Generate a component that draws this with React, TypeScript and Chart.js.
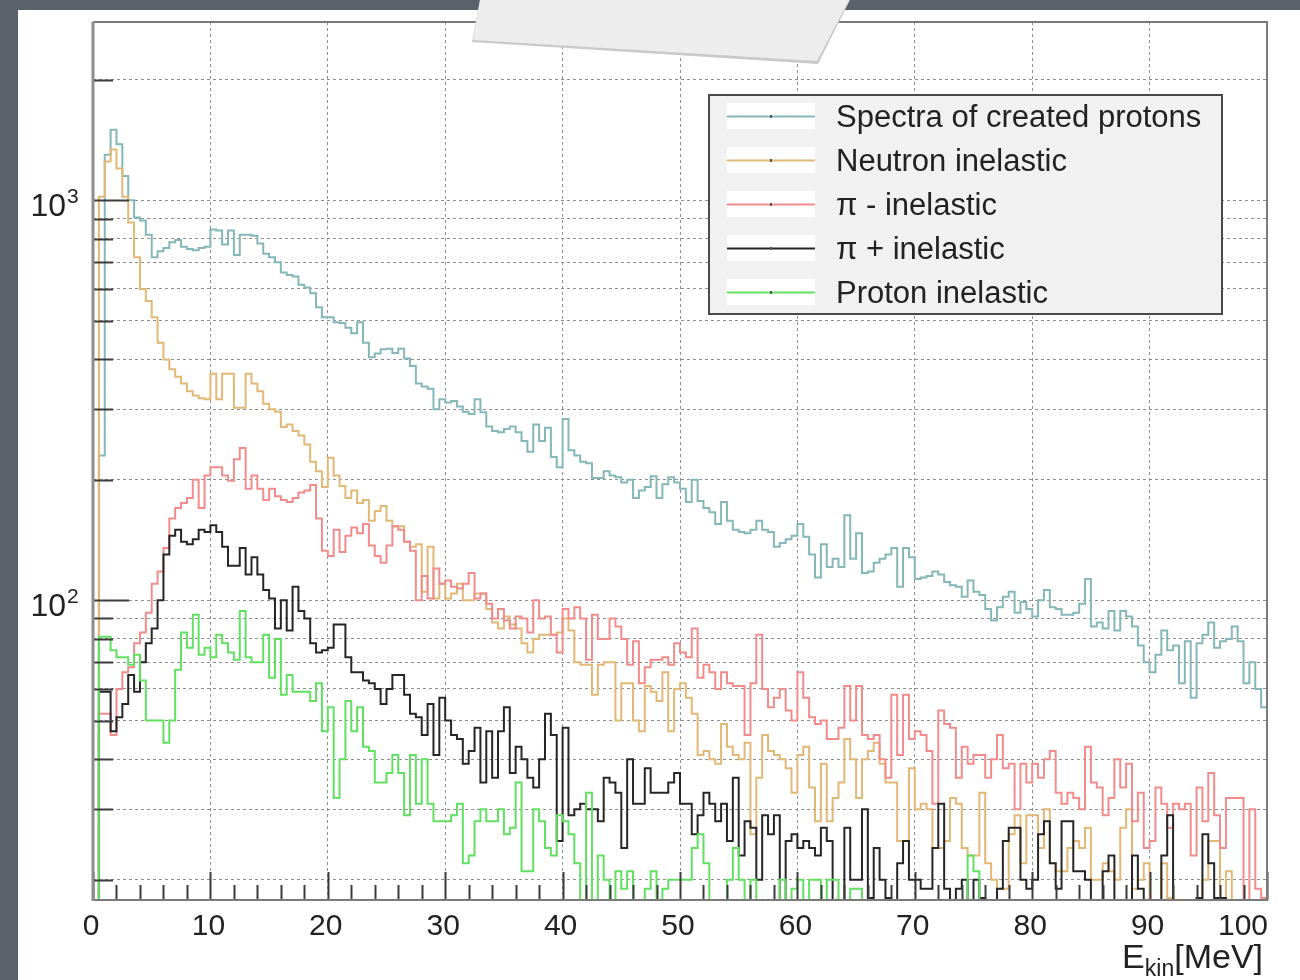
import React, { useEffect, useRef } from 'react';
import { Chart, registerables } from 'chart.js';

Chart.register(...registerables);

// ---------- axis definition ----------
const BIN_WIDTH = 0.5; // MeV
const X_MIN = 0;
const X_MAX = 100;
const X_MAJOR_STEP = 10;
const X_MINOR_STEP = 2;
const Y_MIN = 17.8;
const Y_MAX = 2790;
const Y_TICKS = [20, 30, 40, 50, 60, 70, 80, 90, 100, 200, 300, 400, 500, 600, 700, 800, 900, 1000, 2000];
const Y_LABEL_BASE = '10';
const Y_LABEL_EXP: Record<number, string> = { 100: '2', 1000: '3' };
const X_TITLE_MAIN = 'E';
const X_TITLE_SUB = 'kin';
const X_TITLE_UNIT = '[MeV]';

// ---------- series (counts per 0.5 MeV bin, 200 bins; 0 = empty / below range) ----------
const createdProtons = [
  0, 230, 1300, 1500, 1380, 1150, 1000, 905, 890, 820,
  720, 745, 760, 785, 795, 765, 755, 750, 760, 765,
  845, 840, 775, 840, 730, 820, 820, 815, 780, 735,
  720, 700, 660, 650, 645, 615, 605, 585, 540, 510,
  510, 495, 493, 480, 465, 495, 440, 405, 414, 424,
  425, 415, 425, 402, 385, 348, 342, 338, 300, 318,
  312, 315, 305, 296, 292, 318, 295, 272, 265, 263,
  268, 272, 263, 250, 235, 275, 250, 270, 228, 215,
  284, 237, 230, 222, 220, 202, 202, 210, 205, 203,
  197, 200, 180, 188, 192, 204, 180, 195, 203, 197,
  190, 176, 200, 177, 170, 166, 155, 176, 158, 150,
  148, 147, 150, 158, 150, 148, 136, 139, 142, 145,
  155, 144, 130, 114, 138, 121, 127, 121, 163, 127,
  147, 117, 118, 124, 127, 130, 135, 108, 135, 128,
  113, 114, 115, 118, 116, 111, 109, 108, 102, 112,
  105, 103, 95, 89, 96, 102, 105, 93, 99, 95,
  91, 100, 106, 96, 95, 92, 92, 93, 98, 113,
  86, 88, 85, 94, 84, 94, 91, 86, 77, 70,
  66, 73, 84, 75, 77, 62, 79, 57, 78, 82,
  88, 76, 79, 80, 86, 79, 62, 70, 60, 54,
];

const neutronInelastic = [
  0, 1020, 1250, 1340, 1200, 1020, 880, 720, 600, 560,
  510, 440, 400, 378, 362, 348, 333, 325, 320, 318,
  368, 318, 368, 368, 303, 303, 368, 348, 333, 310,
  300, 296, 271, 275, 265, 258, 245, 222, 210, 192,
  227, 205, 193, 180, 188, 175, 178, 158, 167, 172,
  158, 153, 153, 140, 136, 138, 105, 136, 101, 110,
  101, 104, 110, 100, 100, 104, 104, 95, 88, 85,
  91, 87, 85, 78, 74, 80, 82, 82, 82, 83,
  90, 84, 70, 69, 69, 58, 69, 70, 70, 50,
  62, 62, 50, 47, 61, 59, 56, 66, 47, 60,
  62, 57, 52, 41, 42, 40, 39, 49, 43, 41,
  40, 44, 26, 36, 46, 42, 41, 40, 38, 33,
  41, 43, 34, 28, 39, 28, 32, 35, 45, 40,
  32, 40, 42, 44, 39, 35, 35, 25, 25, 38,
  30, 31, 30, 24, 24, 25, 32, 31, 24, 23,
  23, 33, 22, 20, 19, 19, 26, 29, 22, 29,
  29, 24, 30, 22, 21, 21, 24, 25, 24, 27,
  20, 20, 22, 21, 20, 27, 30, 19, 20, 22,
  0, 0, 22, 18, 0, 0, 0, 0, 18, 20,
  25, 25, 0, 21, 0, 0, 0, 0, 0, 0,
];

const piMinusInelastic = [
  0, 52, 52, 46, 60, 66, 68, 78, 83, 93,
  110, 118, 135, 160, 170, 175, 180, 200, 170, 205,
  215, 215, 205, 199, 225, 240, 190, 205, 190, 178,
  190, 182, 178, 176, 180, 186, 188, 194, 160, 133,
  129, 150, 132, 145, 152, 147, 155, 137, 129, 124,
  137, 153, 150, 140, 133, 100, 115, 101, 120, 110,
  112, 108, 107, 110, 117, 101, 104, 98, 90, 95,
  89, 85, 91, 90, 83, 100, 90, 91, 82, 74,
  95, 90, 96, 90, 71, 92, 80, 80, 90, 86,
  80, 69, 79, 62, 68, 71, 71, 72, 69, 78,
  74, 72, 85, 64, 69, 66, 60, 66, 62, 61,
  61, 46, 62, 82, 60, 54, 57, 60, 53, 50,
  66, 57, 51, 49, 50, 45, 45, 48, 61, 50,
  61, 46, 45, 46, 40, 36, 58, 41, 58, 45,
  47, 46, 42, 31, 53, 49, 48, 36, 43, 39,
  41, 41, 36, 40, 46, 38, 39, 30, 39, 35,
  39, 36, 40, 42, 33, 31, 33, 32, 30, 43,
  35, 34, 29, 32, 40, 34, 39, 28, 33, 24,
  25, 34, 31, 27, 31, 30, 31, 23, 34, 28,
  37, 29, 24, 32, 32, 32, 0, 30, 19, 18,
];

const piPlusInelastic = [
  0, 59, 59, 47, 51, 55, 65, 59, 70, 78,
  85, 100, 130, 145, 150, 140, 138, 142, 150, 148,
  154, 148, 136, 122, 122, 135, 116, 128, 116, 106,
  101, 85, 100, 84, 108, 94, 90, 78, 74, 75,
  76, 87, 87, 72, 66, 66, 63, 62, 60, 55,
  60, 65, 65, 58, 52, 51, 46, 55, 41, 57,
  50, 46, 45, 39, 42, 48, 35, 47, 36, 47,
  54, 37, 43, 40, 36, 34, 40, 52, 46, 25,
  48, 29, 30, 31, 30, 30, 28, 36, 35, 33,
  24, 40, 31, 31, 38, 33, 33, 33, 35, 37,
  31, 31, 26, 29, 33, 31, 28, 31, 25, 36,
  23, 28, 27, 20, 29, 26, 29, 0, 25, 26,
  24, 25, 24, 23, 27, 25, 0, 0, 27, 20,
  20, 30, 18, 24, 20, 18, 0, 22, 25, 20,
  20, 19, 19, 24, 31, 19, 0, 19, 20, 0,
  20, 18, 0, 0, 19, 25, 27, 27, 20, 19,
  20, 26, 28, 22, 19, 28, 28, 21, 21, 20,
  0, 0, 21, 23, 0, 0, 0, 23, 19, 0,
  0, 0, 23, 29, 0, 0, 0, 0, 18, 26,
  22, 18, 18, 0, 0, 0, 0, 0, 0, 0,
];

const protonInelastic = [
  0, 81, 81, 75, 72, 72, 69, 73, 63, 50,
  50, 50, 44, 50, 67, 83, 76, 92, 73, 76,
  72, 82, 78, 74, 71, 94, 72, 70, 70, 82,
  64, 80, 58, 65, 59, 59, 59, 56, 62, 47,
  54, 32, 40, 56, 47, 54, 43, 42, 35, 35,
  37, 41, 37, 29, 41, 31, 40, 31, 28, 28,
  28, 29, 31, 22, 23, 28, 30, 28, 28, 30,
  26, 27, 35, 21, 21, 30, 28, 24, 23, 29,
  28, 26, 22, 0, 33, 0, 23, 20, 0, 21,
  19, 21, 0, 0, 19, 21, 0, 19, 20, 20,
  20, 20, 24, 26, 22, 0, 0, 0, 20, 24,
  20, 0, 20, 0, 0, 0, 0, 20, 0, 19,
  20, 0, 20, 20, 0, 20, 20, 0, 0, 19,
  19, 0, 0, 0, 0, 0, 0, 0, 0, 0,
  0, 0, 0, 0, 0, 0, 0, 0, 0, 23,
  21, 0, 0, 0, 0, 0, 0, 0, 0, 0,
  0, 0, 0, 0, 0, 0, 0, 0, 0, 0,
  0, 0, 0, 0, 0, 0, 0, 0, 0, 0,
  0, 0, 0, 0, 0, 0, 0, 0, 0, 0,
  0, 0, 0, 0, 0, 0, 0, 0, 0, 0,
];

const SERIES_LABELS = [
  'Spectra of created protons',
  'Neutron inelastic',
  '\u03C0 - inelastic',
  '\u03C0 + inelastic',
  'Proton inelastic',
];
const SERIES_VALUES = [createdProtons, neutronInelastic, piMinusInelastic, piPlusInelastic, protonInelastic];
const SERIES_COLORS = ['#86b7b8', '#e2b877', '#f28c8c', '#262626', '#62e062'];

const FONT = '"Liberation Sans", Arial, Helvetica, sans-serif';
const TEXT_COLOR = '#222222';

function toSteps(values: number[]) {
  const pts = values.map((v, i) => ({ x: X_MIN + i * BIN_WIDTH, y: Math.max(v, Y_MIN) }));
  pts.push({ x: X_MIN + values.length * BIN_WIDTH, y: Math.max(values[values.length - 1], Y_MIN) });
  return pts;
}

const rootDecor = {
  id: 'rootDecor',
  afterDatasetsDraw(chart: any) {
    const { ctx, chartArea: a, scales } = chart;
    const xs = scales.x;
    const ys = scales.y;
    ctx.save();

    // inner tick marks (ROOT style)
    ctx.strokeStyle = '#3c3c3c';
    ctx.lineWidth = 2;
    ctx.beginPath();
    for (const v of Y_TICKS) {
      const py = Math.round(ys.getPixelForValue(v)) + 0.5;
      const len = Y_LABEL_EXP[v] ? 36 : 20;
      ctx.moveTo(a.left, py);
      ctx.lineTo(a.left + len, py);
    }
    for (let v = X_MIN; v <= X_MAX; v += X_MINOR_STEP) {
      const px = Math.round(xs.getPixelForValue(v)) + 0.5;
      const len = v % X_MAJOR_STEP === 0 ? 28 : 15;
      ctx.moveTo(px, a.bottom);
      ctx.lineTo(px, a.bottom - len);
    }
    ctx.stroke();

    // frame
    ctx.lineWidth = 2;
    ctx.strokeStyle = '#7a7a7a';
    ctx.beginPath();
    ctx.moveTo(a.left, a.bottom);
    ctx.lineTo(a.right, a.bottom);
    ctx.lineTo(a.right, a.top);
    ctx.lineTo(a.left, a.top);
    ctx.stroke();
    ctx.lineWidth = 3;
    ctx.strokeStyle = '#8e8e8e';
    ctx.beginPath();
    ctx.moveTo(a.left, a.top);
    ctx.lineTo(a.left, a.bottom + 1);
    ctx.stroke();

    // x tick labels (last one kept inside the frame, as ROOT does)
    ctx.fillStyle = TEXT_COLOR;
    ctx.font = `30px ${FONT}`;
    ctx.textBaseline = 'alphabetic';
    const xt = xs.ticks;
    xt.forEach((t: any, i: number) => {
      const px = xs.getPixelForValue(t.value);
      const last = i === xt.length - 1;
      ctx.textAlign = last ? 'right' : 'center';
      ctx.fillText(String(t.value), last ? a.right + 1 : px - 2, a.bottom + 35);
    });

    // y tick labels 10^n
    for (const v of Y_TICKS) {
      const exp = Y_LABEL_EXP[v];
      if (!exp) continue;
      const py = ys.getPixelForValue(v);
      ctx.textAlign = 'right';
      ctx.font = `32px ${FONT}`;
      ctx.fillText(Y_LABEL_BASE, a.left - 27, py + 16);
      ctx.textAlign = 'left';
      ctx.font = `21px ${FONT}`;
      ctx.fillText(exp, a.left - 26, py + 3);
    }

    // legend
    const lx = 691, ly = 85, lw = 513, lh = 219;
    ctx.fillStyle = '#f1f1f1';
    ctx.fillRect(lx, ly, lw, lh);
    ctx.lineWidth = 2;
    ctx.strokeStyle = '#4a4a4a';
    ctx.strokeRect(lx, ly, lw, lh);
    const rowY0 = 106;
    const rowGap = 44;
    ctx.font = `31px ${FONT}`;
    ctx.textBaseline = 'middle';
    ctx.textAlign = 'left';
    chart.data.datasets.forEach((ds: any, i: number) => {
      const cy = rowY0 + i * rowGap;
      ctx.fillStyle = '#ffffff';
      ctx.fillRect(709, cy - 13, 88, 26);
      ctx.strokeStyle = ds.borderColor;
      ctx.lineWidth = 2;
      ctx.beginPath();
      ctx.moveTo(709, cy + 0.5);
      ctx.lineTo(797, cy + 0.5);
      ctx.stroke();
      ctx.fillStyle = '#555';
      ctx.fillRect(752, cy - 1, 2, 3);
      ctx.fillStyle = TEXT_COLOR;
      ctx.fillText(ds.label, 818, cy + 2);
    });

    // x axis title E_kin[MeV], right aligned to the frame
    ctx.textBaseline = 'alphabetic';
    ctx.textAlign = 'left';
    const big = `34px ${FONT}`;
    const small = `23px ${FONT}`;
    ctx.font = big;
    const wE = ctx.measureText(X_TITLE_MAIN).width;
    const wU = ctx.measureText(X_TITLE_UNIT).width;
    ctx.font = small;
    const wS = ctx.measureText(X_TITLE_SUB).width;
    const right = a.right - 4;
    const base = a.bottom + 68;
    let tx = right - (wE + wS + wU);
    ctx.fillStyle = TEXT_COLOR;
    ctx.font = big;
    ctx.fillText(X_TITLE_MAIN, tx, base);
    tx += wE;
    ctx.font = small;
    ctx.fillText(X_TITLE_SUB, tx, base + 8);
    tx += wS;
    ctx.font = big;
    ctx.fillText(X_TITLE_UNIT, tx, base);

    ctx.restore();
  },
};

export default function App() {
  const canvasRef = useRef<HTMLCanvasElement>(null);

  useEffect(() => {
    const datasets = SERIES_VALUES.map((vals, i) => ({
      label: SERIES_LABELS[i],
      data: toSteps(vals),
      borderColor: SERIES_COLORS[i],
      backgroundColor: SERIES_COLORS[i],
      borderWidth: 2,
      pointRadius: 0,
      stepped: 'before' as const,
      fill: false,
      order: SERIES_VALUES.length - i,
    }));

    const chart = new Chart(canvasRef.current as HTMLCanvasElement, {
      type: 'line',
      data: { datasets },
      options: {
        animation: false,
        responsive: false,
        devicePixelRatio: 1,
        events: [],
        layout: { padding: { left: 0, top: 12, right: 33, bottom: 0 } },
        plugins: { legend: { display: false }, tooltip: { enabled: false }, title: { display: false } },
        scales: {
          x: {
            type: 'linear',
            min: X_MIN,
            max: X_MAX,
            afterFit: (s: any) => { s.height = 80; s.paddingLeft = 0; s.paddingRight = 0; },
            ticks: { stepSize: X_MAJOR_STEP, autoSkip: false, display: false },
            grid: { color: '#8f8f8f', lineWidth: 1, drawTicks: false },
            border: { display: false, dash: [3, 3] },
          },
          y: {
            type: 'logarithmic',
            min: Y_MIN,
            max: Y_MAX,
            afterFit: (s: any) => { s.width = 75; s.paddingTop = 0; s.paddingBottom = 0; },
            afterBuildTicks: (s: any) => { s.ticks = Y_TICKS.map((v) => ({ value: v })); },
            ticks: { autoSkip: false, display: false },
            grid: { color: '#8f8f8f', lineWidth: 1, drawTicks: false },
            border: { display: false, dash: [3, 3] },
          },
        },
      },
      plugins: [rootDecor],
    } as any);

    return () => chart.destroy();
  }, []);

  return (
    <div style={{ position: 'fixed', left: 0, top: 0, width: 1300, height: 980, background: '#5b6169', overflow: 'hidden' }}>
      <div style={{ position: 'absolute', left: 18, top: 10, width: 1282, height: 970, background: '#ffffff' }}>
        <canvas ref={canvasRef} width={1282} height={970} style={{ display: 'block' }} />
      </div>
      <div
        style={{
          position: 'absolute', left: 0, top: 0, width: 1300, height: 80, background: '#c9c9c9',
          clipPath: 'polygon(480px 0px, 850px 0px, 818px 64px, 472px 42px)',
        }}
      />
      <div
        style={{
          position: 'absolute', left: 0, top: 0, width: 1300, height: 80, background: '#ededed',
          clipPath: 'polygon(480px 0px, 849px 0px, 817px 61px, 473px 40px)',
        }}
      />
    </div>
  );
}
